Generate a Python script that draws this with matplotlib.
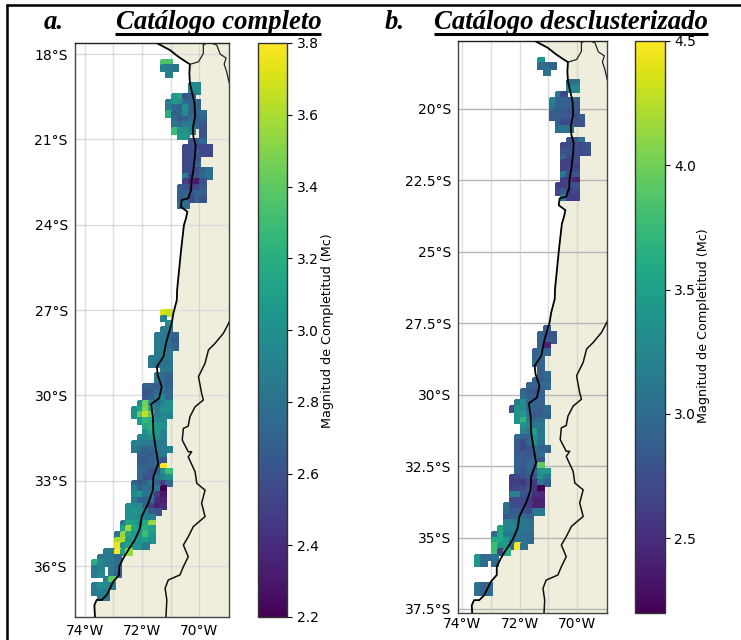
import numpy as np
import matplotlib
matplotlib.use("Agg")
import matplotlib.pyplot as plt
from matplotlib.lines import Line2D
from matplotlib.patches import Polygon

N = None
# {row: (first column, [Mc values])}: grid of 0.2 degree cells
rows_a = {
 0:(0,[3.35,3.35]), 1:(0,[2.9,2.85,2.8]), 2:(1,[2.9]),
 4:(5,[2.95,2.95]), 5:(5,[2.95,2.95]),
 6:(2,[3.05,3.15,2.6,2.7]), 7:(1,[2.9,3.05,3.0,2.75,2.7,2.7]),
 8:(1,[2.85,2.75,2.7,3.0,2.7,2.7]), 9:(1,[3.2,2.7,2.7,2.95,2.7,2.7,2.75]),
 10:(2,[2.75,2.65,2.7,2.75,2.65,2.7]), 11:(2,[2.8,2.75,2.85,2.85,2.7,2.6]),
 12:(2,[3.3,3.0,3.0,2.9,N,2.6]), 13:(3,[3.05,3.05,N,N,2.6]),
 14:(5,[2.6,2.6,2.75]), 15:(4,[2.55,2.55,2.55,2.55,2.55]),
 16:(4,[2.55,2.55,2.7,2.55,2.55]), 17:(4,[2.55,2.55,2.6]),
 18:(4,[2.55,2.55,2.7]), 19:(4,[2.55,2.55,2.55,2.7,2.8]),
 20:(4,[2.9,2.5,2.6,2.75,2.8]), 21:(4,[2.5,2.4,2.3,2.6]),
 22:(3,[2.7,2.6,2.5,2.55,2.65]), 23:(3,[2.7,2.7,2.65,2.7,2.7]),
 24:(3,[2.7,2.7,2.55,2.7,2.6]), 25:(3,[2.8,2.75]),
 44:(0,[3.7,3.65]), 45:(0,[2.9]), 46:(1,[2.95]), 47:(0,[2.85,2.85]),
 48:(-1,[2.85,2.85,2.8,2.7]), 49:(-1,[2.85,2.85,2.8,2.65]),
 50:(-1,[2.85,2.85,2.8,2.7]), 51:(-1,[2.85,2.85,2.85]),
 52:(-2,[2.85,2.85,2.85,2.85]), 53:(-2,[2.85,2.8,2.8,2.8]),
 54:(0,[2.85,2.85]), 55:(-1,[2.85,2.75,2.7]), 56:(-1,[2.85,2.75,2.7]),
 57:(-3,[2.7,2.7,2.65,2.8,2.7]), 58:(-3,[2.6,2.65,2.75,2.75,2.75]),
 59:(-3,[2.65,2.7,2.85,2.95,2.75]),
 60:(-4,[2.95,3.45,2.95,2.75,2.9,3.0]), 61:(-5,[3.0,3.1,3.5,3.1,2.85,3.0,3.0]),
 62:(-5,[3.0,3.4,3.65,3.4,2.85,2.95,2.9]), 63:(-4,[3.05,3.25,3.2,2.95,2.95]),
 64:(-3,[3.15,3.2,3.05,3.0]), 65:(-3,[3.0,3.15,3.05,2.9]),
 66:(-4,[2.95,2.95,3.0,3.0,2.9]), 67:(-5,[2.9,2.9,2.85,2.85,2.85,2.85]),
 68:(-5,[2.85,2.8,2.7,2.75,2.85,2.85,2.9]), 69:(-4,[2.7,2.7,2.65,2.8,2.85]),
 70:(-4,[2.65,2.65,2.7,2.75,2.6]), 71:(-4,[2.7,2.7,2.7,2.7,3.8]),
 72:(-4,[2.75,2.7,2.6,2.65,3.0,3.3]), 73:(-4,[2.75,2.6,2.6,2.8,2.9,3.0]),
 74:(-5,[2.7,2.65,2.7,2.85,2.7,2.5,2.75]), 75:(-5,[2.9,2.7,2.8,2.75,2.85,2.2]),
 76:(-5,[2.95,3.05,2.8,2.85,2.45,2.3]), 77:(-5,[2.85,2.7,2.7,2.8,2.4,2.35]),
 78:(-6,[3.0,2.95,3.0,2.7,2.5,2.35,2.4]), 79:(-6,[3.0,3.05,3.0,2.9,2.65,2.6]),
 80:(-6,[3.0,3.0,2.95,2.9,2.9]), 81:(-7,[2.85,3.15,3.1,2.95,3.15,3.55]),
 82:(-7,[3.1,3.55,3.15,3.05,3.2,3.1]), 83:(-8,[2.8,3.55,3.15,3.05,3.0,3.3,3.05]),
 84:(-8,[3.6,3.6,3.05,3.1,3.05,3.1,3.0]), 85:(-8,[3.75,3.0,3.1,3.0,3.0,2.85]),
 86:(-10,[2.85,2.85,3.8,3.1,3.55]), 87:(-11,[2.85,2.85,2.85,2.75]),
 88:(-12,[3.2,2.95,2.85,2.85,2.8]), 89:(-12,[2.85,2.9,N,2.85,2.75]),
 90:(-12,[2.85,2.95,N,2.85,2.7]), 91:(-10,[2.9,3.4]),
 92:(-12,[2.85,3.0,2.95,2.85]), 93:(-12,[2.85,2.9,2.9]), 94:(-11,[2.85,2.85]),
}
rows_b = {
 0:(0,[3.4]), 1:(0,[2.99,2.99,2.92]), 2:(1,[3.06]),
 4:(5,[2.99,3.06]), 5:(5,[3.28,3.28]), 6:(3,[3.13,2.70]),
 7:(2,[3.21,2.92,2.92,2.85,2.92]), 8:(2,[3.13,2.92,2.92,2.92,2.85]),
 9:(2,[2.92,2.85,2.85,2.78,2.78]), 10:(2,[2.85,2.85,2.85,2.85,2.70,2.85]),
 11:(3,[2.92,2.70,2.70,2.78,2.78]), 12:(3,[3.06,3.06,3.06]),
 14:(5,[2.78,2.78,3.06]), 15:(4,[2.70,2.70,2.78,2.70,2.78]),
 16:(4,[2.78,2.78,2.70,2.70,2.78]), 17:(4,[2.92,2.70,2.70]),
 18:(4,[2.63,2.63,2.70]), 19:(4,[2.63,2.70,2.63]), 20:(4,[3.13,2.70,2.78]),
 21:(4,[2.63,2.63,2.42]), 22:(3,[2.63,2.63,2.70,2.78]),
 23:(3,[2.70,2.85,2.63,2.70]), 24:(4,[3.13,2.63,2.63]),
 47:(1,[2.92]), 48:(0,[2.92,2.78,2.78]), 49:(0,[2.92,2.85,2.85]),
 50:(0,[2.92,2.42]), 51:(-1,[2.92,2.99,2.92]), 52:(-1,[2.92,2.99]),
 53:(-1,[2.99,2.92]), 54:(0,[2.92]), 55:(0,[2.92,2.99]),
 56:(-1,[2.92,2.85,2.92]), 57:(-2,[2.92,2.92,2.99,2.99]),
 58:(-3,[2.92,2.85,2.78,2.92]), 59:(-3,[2.99,2.92,2.85,2.92]),
 60:(-4,[3.13,3.35,2.92,2.92,2.92]), 61:(-5,[2.78,3.35,3.28,2.99,2.92,2.85,2.99]),
 62:(-4,[3.35,3.42,3.06,2.85,2.85,2.92]), 63:(-4,[3.35,3.71,3.13,2.92,2.99]),
 64:(-3,[3.35,3.28,3.06,3.13]), 65:(-3,[3.21,3.13,3.49,3.06]),
 66:(-4,[2.99,2.92,2.92,3.35,3.13]), 67:(-4,[2.85,2.70,2.99,3.35,3.06]),
 68:(-4,[2.85,2.70,2.78,3.06,2.92,2.92]), 69:(-4,[2.85,2.85,2.78,2.85,2.99]),
 70:(-4,[2.92,2.85,2.92,2.99,2.78]), 71:(-4,[2.92,2.85,2.99,2.85,3.93]),
 72:(-4,[2.92,2.78,2.92,2.92,3.35,3.42]), 73:(-5,[2.63,2.70,2.78,2.85,2.78,3.35,3.13]),
 74:(-5,[2.63,2.63,2.56,2.78,2.56,3.13,2.92]), 75:(-5,[2.63,2.70,2.70,2.78,2.56,2.2]),
 76:(-5,[3.21,3.21,2.78,2.78,2.49,2.49]), 77:(-5,[2.70,2.70,2.70,2.56,2.42,2.42]),
 78:(-6,[3.06,2.78,2.70,2.70,2.63,2.42,2.42]), 79:(-6,[2.99,2.85,2.85,2.78,2.70,3.13,3.13]),
 80:(-6,[2.85,2.92,2.92,2.99,2.92]), 81:(-6,[3.21,3.21,3.13,3.13,3.06]),
 82:(-7,[3.57,3.21,3.28,3.13,3.13,3.06]), 83:(-8,[2.99,3.57,3.13,3.13,3.06,3.06,2.99]),
 84:(-8,[3.57,3.57,3.42,3.13,3.06,3.06,2.99]), 85:(-8,[3.78,3.42,3.49,2.99,4.5,3.06]),
 86:(-8,[3.78,2.63,3.64]), 87:(-11,[3.42,2.99,2.99,3.06]),
 88:(-11,[3.42,2.99,N,2.99]), 92:(-11,[3.06,2.92,2.99]), 93:(-11,[3.06,2.92,2.99]),
}

coast_lon = [-71.8,-71.41,-71.02,-70.73,-70.43,-70.32,-70.34,-70.32,-70.24,-70.16,-70.14,-70.22,-70.20,
             -70.12,-70.14,-70.20,-70.26,-70.28,-70.38,-70.61,-70.64,-70.41,-70.46,-70.53,-70.63,-70.70,
             -70.77,-70.78,-70.90,-70.96,-71.08,-71.16,-71.25,-71.48,-71.45,-71.31,-71.40,-71.68,-71.62,
             -71.60,-71.51,-71.43,-71.45,-71.60,-71.62,-71.78,-72.01,-72.07,-72.25,-72.48,-72.66,-72.80,
             -72.80,-73.01,-73.12,-73.24,-73.41,-73.59,-73.67,-73.65,-73.6]
coast_lat = [-17.4,-17.65,-17.86,-18.09,-18.29,-18.36,-18.68,-19.03,-19.38,-19.73,-20.20,-20.61,-20.91,
             -21.20,-21.55,-22.08,-22.43,-22.78,-23.07,-23.13,-23.37,-23.54,-23.78,-24.01,-24.89,-25.59,
             -26.30,-26.65,-27.11,-27.47,-27.88,-28.17,-28.64,-28.99,-29.28,-29.69,-30.10,-30.30,-30.75,
             -31.33,-31.92,-32.39,-32.45,-32.86,-33.33,-33.79,-34.26,-34.67,-35.08,-35.43,-35.73,-36.02,
             -36.31,-36.55,-36.78,-37.02,-37.19,-37.19,-37.37,-37.79,-38.1]
peru_lon = [-70.32,-70.02,-69.85,-69.85,-69.85]
peru_lat = [-18.36,-18.27,-17.98,-17.68,-17.4]
bolivia_lon = [-69.85,-69.67,-69.38,-69.26,-69.05,-69.12,-69.03,-68.95,-68.8]
bolivia_lat = [-17.68,-17.58,-17.68,-18.0,-18.14,-18.35,-18.63,-18.98,-19.5]
andes_lon = [-68.8,-68.95,-69.15,-69.44,-69.67,-69.79,-70.02,-69.91,-69.85,-70.14,-70.32,-70.38,-70.55,
             -70.59,-70.38,-70.26,-70.38,-70.14,-70.08,-69.79,-69.91,-69.79,-70.20,-70.38,-70.55,-70.38,
             -70.55,-70.67,-71.08,-71.19,-71.13,-71.16,-71.2]
andes_lat = [-27.1,-27.44,-27.82,-28.17,-28.40,-28.87,-29.34,-29.93,-30.16,-30.40,-30.75,-31.08,-31.16,
             -31.57,-31.98,-31.98,-32.16,-32.68,-33.09,-33.33,-33.79,-34.26,-34.61,-34.97,-35.26,-35.67,
             -36.02,-36.31,-36.49,-36.78,-37.19,-37.78,-38.1]

lats_a = [-18,-21,-24,-27,-30,-33,-36]
lat_labels_a = ['18°S','21°S','24°S','27°S','30°S','33°S','36°S']
lats_b = [-20,-22.5,-25,-27.5,-30,-32.5,-35,-37.5]
lat_labels_b = ['20°S','22.5°S','25°S','27.5°S','30°S','32.5°S','35°S','37.5°S']
lons = [-74,-72,-70]
lon_labels = ['74°W','72°W','70°W']
lon_grid = [-74,-73,-72,-71,-70]
cb_ticks_a = [2.2,2.4,2.6,2.8,3.0,3.2,3.4,3.6,3.8]
cb_ticks_b = [2.5,3.0,3.5,4.0,4.5]
CB_LABEL = 'Magnitud de Completitud (Mc)'

W, H = 741, 640
LAND = '#EFEEDC'
plt.rcParams['font.family'] = 'DejaVu Sans'
fig = plt.figure(figsize=(W/100, H/100), dpi=100, facecolor='white')

def box(l, t, r, b):
    return [l/W, 1-b/H, (r-l)/W, (b-t)/H]

def to_grid(rows):
    lon_edges = np.round(-71.35 + 0.2*np.arange(-13, 12), 2)
    lat_edges = np.round(-18.2 - 0.2*np.arange(0, 97), 2)
    z = np.full((len(lat_edges)-1, len(lon_edges)-1), np.nan)
    for r, (c0, vals) in rows.items():
        for i, v in enumerate(vals):
            if v is not None:
                z[r, c0+13+i] = v
    return lon_edges, lat_edges, z

def panel(rows, ax_box, cb_box, xlim, ylim, lats, lat_labels, vmin, vmax, cb_ticks,
          hgrid, xpad, label_x, label_y):
    ax = fig.add_axes(box(*ax_box))
    ax.set_xlim(*xlim); ax.set_ylim(*ylim)
    land = list(zip(coast_lon, coast_lat)) + [(-67, -38.1), (-67, -17.4)]
    ax.add_patch(Polygon(land, closed=True, fc=LAND, ec='none', zorder=1))
    for y in lats:
        ax.axhline(y, color=hgrid, lw=1, zorder=1.5)
    for x in lon_grid:
        ax.axvline(x, color='#c8c8c8', lw=1, alpha=0.6, zorder=1.5)
    lon_e, lat_e, z = to_grid(rows)
    m = ax.pcolormesh(lon_e, lat_e, z, cmap='viridis', vmin=vmin, vmax=vmax, zorder=2,
                      edgecolors='face', linewidth=0.2)
    ax.plot(coast_lon, coast_lat, color='black', lw=1.3, zorder=3)
    ax.plot(peru_lon, peru_lat, color='#222222', lw=0.9, zorder=3)
    ax.plot(bolivia_lon, bolivia_lat, color='#222222', lw=0.9, zorder=3)
    ax.plot(andes_lon, andes_lat, color='#111111', lw=1.1, zorder=3)
    ax.set_xticks(lons); ax.set_xticklabels(lon_labels)
    ax.set_yticks(lats); ax.set_yticklabels(lat_labels)
    ax.tick_params(axis='x', length=0, pad=xpad, labelsize=10)
    ax.tick_params(axis='y', length=0, pad=5, labelsize=10)
    for s in ax.spines.values():
        s.set_color('#444444'); s.set_linewidth(1.0)
    ax.spines['top'].set_color('#222222')
    cax = fig.add_axes(box(*cb_box))
    cb = fig.colorbar(m, cax=cax, ticks=cb_ticks)
    cb.ax.tick_params(labelsize=10, length=3.5, width=0.8)
    cb.outline.set_linewidth(1.0); cb.outline.set_edgecolor('#333333')
    fig.text(label_x/W, 1-label_y/H, CB_LABEL, rotation=90, ha='center', va='center', fontsize=9.2)

panel(rows_a, (74.7,43,229,617), (258,43,287,617), (-74.36,-68.95), (-37.79,-17.61),
      lats_a, lat_labels_a, 2.2, 3.8, cb_ticks_a, '#dcdcdc', 5, 327, 331)
panel(rows_b, (458,41,606.7,612.7), (635.3,41,664.7,612.7), (-74.15,-68.97), (-37.63,-17.62),
      lats_b, lat_labels_b, 2.2, 4.5, cb_ticks_b, '#b4b4b4', 3, 704, 326)

serif = dict(family='Liberation Serif', weight='bold', style='italic', color='black')
for txt, x in [('a.', 44), ('Catálogo completo', 115.5),
               ('b.', 385), ('Catálogo desclusterizado', 434)]:
    fig.text(x/W, 1-29/H, txt, ha='left', va='baseline', fontsize=19.3, **serif)

def rule(x0, y0, x1, y1, lw):
    fig.add_artist(Line2D([x0/W, x1/W], [1-y0/H, 1-y1/H], color='black', lw=lw,
                          solid_capstyle='butt', transform=fig.transFigure))
rule(115, 34, 321, 34, 2.2)
rule(434, 34, 708, 34, 2.2)
rule(6, 5, 741, 5, 1.8)
rule(7, 4, 7, 640, 1.8)

fig.savefig('out.png', dpi=100, facecolor='white')
